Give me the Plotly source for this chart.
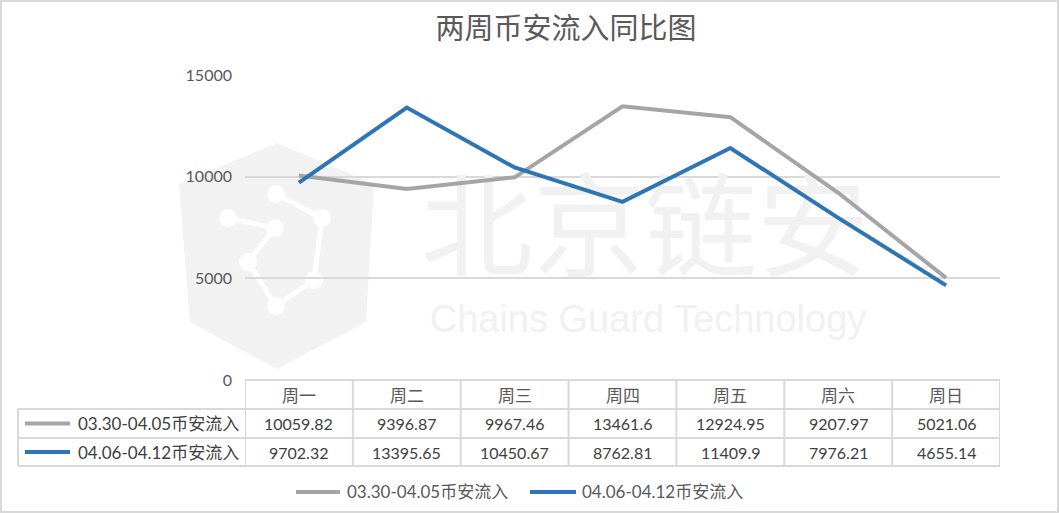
import plotly.graph_objects as go

# ---------------- data ----------------
categories = ["周一", "周二", "周三", "周四", "周五", "周六", "周日"]
series_names = ["03.30-04.05币安流入", "04.06-04.12币安流入"]
week1 = [10059.82, 9396.87, 9967.46, 13461.6, 12924.95, 9207.97, 5021.06]
week2 = [9702.32, 13395.65, 10450.67, 8762.81, 11409.9, 7976.21, 4655.14]
y_ticks = [0, 5000, 10000, 15000]
title_text = "两周币安流入同比图"
watermark_cn = "北京链安"
watermark_en = "Chains Guard Technology"

# ---------------- layout constants ----------------
W, H = 1059, 513
L, R, T, B = 245, 1000, 75, 380          # plot area in pixels
PW, PH = R - L, B - T

def px2x(px):
    return (px - L) / PW

def px2y(py):
    return (B - py) / PH

GRAY = "#A5A5A5"
BLUE = "#2E75B6"
GRID = "#D9D9D9"
TXT = "#595959"
NUM = "#404040"
FONT = "Lato, Noto Sans CJK SC, sans-serif"
CJK = "Noto Sans CJK SC, sans-serif"

xs = list(range(len(categories)))
colors = [GRAY, BLUE]
values = [week1, week2]

fig = go.Figure()

# watermark texts (drawn first, below the data lines)
fig.add_trace(go.Scatter(
    x=[(645 - L) / PW * 7 - 0.5], y=[(B - 240) / PH * 15000],
    mode="text", text=[watermark_cn], textposition="middle center",
    textfont=dict(size=112, color="#F1F1F1", family=CJK),
    showlegend=False, hoverinfo="skip", cliponaxis=False))
fig.add_trace(go.Scatter(
    x=[(648 - L) / PW * 7 - 0.5], y=[(B - 322) / PH * 15000],
    mode="text", text=[watermark_en], textposition="middle center",
    textfont=dict(size=38, color="#F1F1F1", family="Liberation Sans, sans-serif"),
    showlegend=False, hoverinfo="skip", cliponaxis=False))

for name, vals, col in zip(series_names, values, colors):
    fig.add_trace(go.Scatter(
        x=xs, y=vals, mode="lines", name=name, showlegend=False,
        line=dict(color=col, width=4)))

shapes = []
annotations = []

# watermark logo (faint hexagon)
hexpts = [(277, 143), (374, 184), (366, 322), (277, 369), (190, 322), (179, 184)]
path = "M " + " L ".join(f"{px2x(a)},{px2y(b)}" for a, b in hexpts) + " Z"
shapes.append(dict(type="path", xref="paper", yref="paper", path=path,
                   fillcolor="#F2F2F2", line=dict(width=0), layer="below"))
inner = [(276, 194), (322, 218), (314, 280), (276, 306), (248, 262), (275, 228), (228, 218)]
ipath = "M " + " L ".join(f"{px2x(a)},{px2y(b)}" for a, b in inner)
shapes.append(dict(type="path", xref="paper", yref="paper", path=ipath,
                   line=dict(color="#FFFFFF", width=5), layer="below"))
for a, b in inner:
    r = 9
    shapes.append(dict(type="circle", xref="paper", yref="paper",
                       x0=px2x(a - r), x1=px2x(a + r), y0=px2y(b + r), y1=px2y(b - r),
                       fillcolor="#FFFFFF", line=dict(width=0), layer="below"))

# outer border
shapes.append(dict(type="rect", xref="paper", yref="paper",
                   x0=px2x(1), x1=px2x(W - 1), y0=px2y(H - 1), y1=px2y(1),
                   line=dict(color=GRID, width=2)))

# data table lines
row_lines = [380, 409, 438, 466]
for i, py in enumerate(row_lines):
    shapes.append(dict(type="line", xref="paper", yref="paper",
                       x0=px2x(L) if i == 0 else px2x(18), x1=px2x(R),
                       y0=px2y(py), y1=px2y(py), line=dict(color=GRID, width=2)))
for k in range(len(categories) + 1):
    shapes.append(dict(type="line", xref="x", yref="paper",
                       x0=k - 0.5, x1=k - 0.5, y0=px2y(380), y1=px2y(466),
                       line=dict(color=GRID, width=2)))
shapes.append(dict(type="line", xref="paper", yref="paper",
                   x0=px2x(18), x1=px2x(18), y0=px2y(409), y1=px2y(466),
                   line=dict(color=GRID, width=2)))

# header row
for i, c in enumerate(categories):
    annotations.append(dict(x=i, y=px2y(394.5), xref="x", yref="paper",
                            text=c, showarrow=False, xanchor="center", yanchor="middle",
                            font=dict(family=CJK, size=17, color=TXT)))

# data rows
row_centers = [423.5, 452]
for r_i, (name, vals, col) in enumerate(zip(series_names, values, colors)):
    yc = px2y(row_centers[r_i])
    shapes.append(dict(type="line", xref="paper", yref="paper",
                       x0=px2x(25), x1=px2x(70), y0=yc, y1=yc,
                       line=dict(color=col, width=4)))
    annotations.append(dict(x=px2x(241), y=yc, xref="paper", yref="paper",
                            text=name, showarrow=False, xanchor="right", yanchor="middle",
                            font=dict(family=FONT, size=17, color=NUM)))
    for i, v in enumerate(vals):
        annotations.append(dict(x=i, y=yc, xref="x", yref="paper",
                                text=str(v), showarrow=False, xanchor="center", yanchor="middle",
                                font=dict(family=FONT, size=16, color=NUM)))

# bottom legend (drawn manually to keep the plot area fixed)
legend_items = [(296, 340, 345), (530, 576, 580)]
for (lx0, lx1, tx), name, col in zip(legend_items, series_names, colors):
    yc = px2y(492)
    shapes.append(dict(type="line", xref="paper", yref="paper",
                       x0=px2x(lx0), x1=px2x(lx1), y0=yc, y1=yc,
                       line=dict(color=col, width=4)))
    annotations.append(dict(x=px2x(tx), y=yc, xref="paper", yref="paper",
                            text=name, showarrow=False, xanchor="left", yanchor="middle",
                            font=dict(family=FONT, size=17, color=TXT)))

fig.update_layout(
    width=W, height=H,
    margin=dict(l=L, r=W - R, t=T, b=H - B, pad=0),
    paper_bgcolor="white", plot_bgcolor="rgba(0,0,0,0)",
    title=dict(text=title_text, x=566 / W, xanchor="center", xref="container",
               y=1 - 29 / H, yanchor="middle",
               font=dict(family=CJK, size=29, color=TXT)),
    xaxis=dict(range=[-0.5, len(categories) - 0.5], showticklabels=False,
               showgrid=False, zeroline=False, showline=False, fixedrange=True),
    yaxis=dict(range=[0, 15000], tickvals=y_ticks, ticktext=[str(t) for t in y_ticks],
               showgrid=True, gridcolor=GRID, gridwidth=1.5, zeroline=False,
               showline=False, ticks="", ticklabelstandoff=12, automargin=False,
               tickfont=dict(family=FONT, size=16, color=TXT)),
    shapes=shapes, annotations=annotations,
    showlegend=False,
)

fig.write_html(
    "out.html",
    config={"displayModeBar": False},
    post_script="document.body.style.margin='0';document.body.style.padding='0';document.body.style.overflow='hidden';",
)
